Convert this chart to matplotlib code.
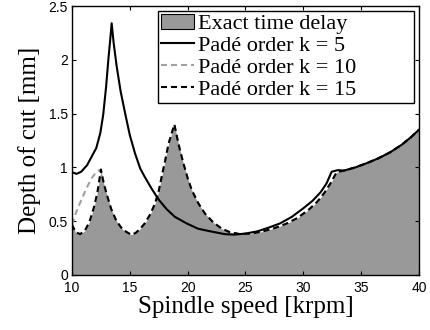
import matplotlib
matplotlib.use('Agg')
import matplotlib.pyplot as plt
from matplotlib.patches import Patch
from matplotlib.lines import Line2D

# exact time delay stability boundary
speed_exact = [10.0, 10.3, 10.7, 11.1, 11.5, 11.9, 12.2, 12.5, 12.75, 13.0, 13.4, 13.85,
               14.4, 15.1, 15.5, 15.9, 16.3, 16.8, 17.2, 17.5, 17.75, 18.05, 18.35, 18.6,
               18.85, 19.2, 19.6, 20.0, 20.35, 20.9, 21.5, 22.2, 22.95, 23.6, 24.5, 25.5,
               26.5, 27.5, 28.5, 29.5, 30.5, 31.2, 31.8, 32.4, 32.88, 33.5, 34.5, 35.5,
               36.5, 37.5, 38.5, 39.3, 40.0]
depth_exact = [0.47, 0.40, 0.38, 0.41, 0.49, 0.63, 0.77, 0.98, 0.85, 0.75, 0.61, 0.50,
               0.42, 0.375, 0.39, 0.43, 0.48, 0.57, 0.67, 0.78, 0.91, 1.06, 1.22, 1.31,
               1.40, 1.22, 1.05, 0.90, 0.79, 0.67, 0.57, 0.49, 0.43, 0.40, 0.38, 0.385,
               0.405, 0.435, 0.475, 0.53, 0.61, 0.68, 0.76, 0.86, 0.955, 0.97, 1.0, 1.04,
               1.085, 1.14, 1.21, 1.28, 1.35]

# Pade k = 5
speed_k5 = [10.0, 10.4, 10.8, 11.3, 11.7, 12.1, 12.45, 12.7, 12.95, 13.15, 13.3, 13.43,
            13.6, 13.85, 14.2, 14.6, 15.0, 15.45, 15.9, 16.3, 16.9, 17.5, 18.2, 18.9,
            19.9, 20.9, 22.0, 23.2, 24.0, 25.0, 26.0, 27.0, 28.0, 29.0, 30.0, 30.8,
            31.5, 32.0, 32.45, 33.0] + speed_exact[45:]
depth_k5 = [0.955, 0.94, 0.96, 1.02, 1.10, 1.18, 1.32, 1.49, 1.75, 2.01, 2.18, 2.34,
            2.16, 1.95, 1.71, 1.50, 1.30, 1.13, 0.99, 0.91, 0.80, 0.70, 0.61, 0.54,
            0.48, 0.43, 0.405, 0.38, 0.375, 0.385, 0.405, 0.44, 0.48, 0.54, 0.62, 0.69,
            0.77, 0.85, 0.96, 0.975] + depth_exact[45:]

# Pade k = 10 (differs only on the first lobe)
speed_k10 = [10.0, 10.35, 10.7, 11.27, 11.7, 12.13] + speed_exact[7:]
depth_k10 = [0.47, 0.58, 0.67, 0.81, 0.90, 0.96] + depth_exact[7:]

# Pade k = 15 (on top of exact)
speed_k15 = speed_exact
depth_k15 = depth_exact

dash = (2.9, 1.9)

fig = plt.figure(figsize=(4.3, 3.3), dpi=100)
ax = fig.add_axes([0.1674, 0.1667, 0.807, 0.815])

ax.fill_between(speed_exact, 0, depth_exact, color='#999999', linewidth=0, zorder=1)
ax.plot(speed_k5, depth_k5, color='k', linewidth=1.5, zorder=3)
ax.plot(speed_k10, depth_k10, color='#a0a0a0', linewidth=1.5, dashes=dash, zorder=2)
ax.plot(speed_k15, depth_k15, color='k', linewidth=1.5, dashes=dash, zorder=4)

ax.set_xlim(10, 40)
ax.set_ylim(0, 2.5)
ax.set_xticks([10, 15, 20, 25, 30, 35, 40])
ax.set_yticks([0, 0.5, 1, 1.5, 2, 2.5])
ax.set_yticklabels(['0', '0.5', '1', '1.5', '2', '2.5'])
ax.tick_params(direction='in', length=3, width=0.8, top=True, right=True, labelsize=10)
ax.tick_params(axis='x', pad=4)
ax.tick_params(axis='y', pad=3)
for lab in ax.get_xticklabels() + ax.get_yticklabels():
    lab.set_family('Liberation Sans')
for s in ax.spines.values():
    s.set_linewidth(1.0)

ax.set_xlabel('Spindle speed [krpm]', family='Liberation Serif', fontsize=18, labelpad=1)
ax.set_ylabel('Depth of cut [mm]', family='Liberation Serif', fontsize=18, labelpad=5)

handles = [Patch(facecolor='#999999', edgecolor='k', linewidth=0.8),
           Line2D([], [], color='k', linewidth=1.5),
           Line2D([], [], color='#a0a0a0', linewidth=1.5, dashes=dash),
           Line2D([], [], color='k', linewidth=1.5, dashes=dash)]
labels = ['Exact time delay', 'Padé order k = 5', 'Padé order k = 10', 'Padé order k = 15']
leg = ax.legend(handles, labels, loc='upper left', bbox_to_anchor=(0.248, 0.5, 0.738, 0.481),
                mode='expand', prop={'family': 'Liberation Serif', 'size': 16},
                fancybox=False, framealpha=1, edgecolor='k', labelspacing=0.06,
                handlelength=1.5, handletextpad=0.2, borderpad=0.12, borderaxespad=0)
leg.get_frame().set_linewidth(1.0)

plt.savefig('out.png', dpi=100)
